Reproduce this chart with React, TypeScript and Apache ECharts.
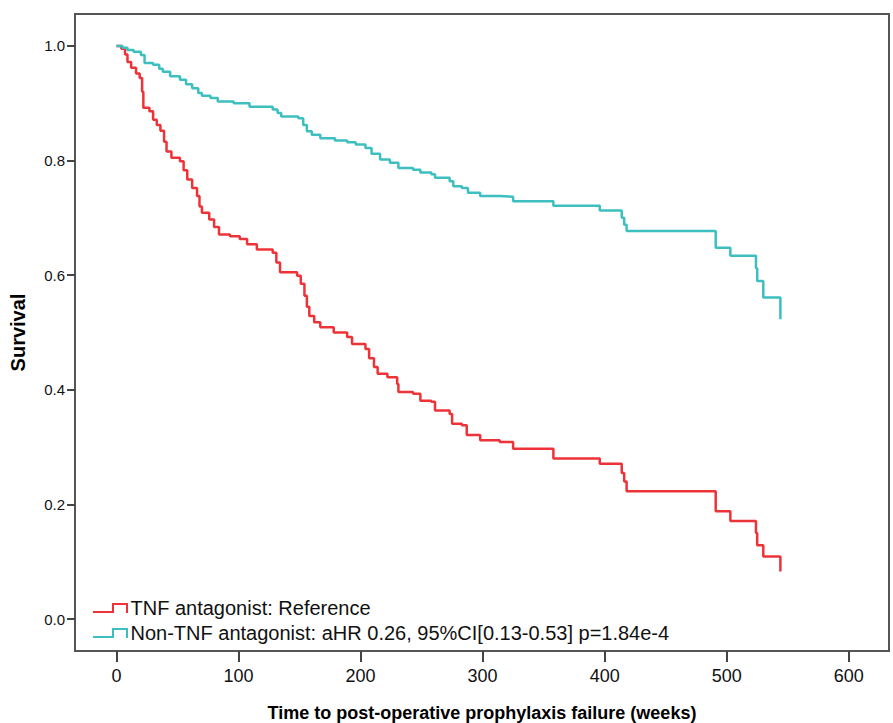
import React, { useEffect, useRef } from "react";
import * as echarts from "echarts";

// Kaplan-Meier step data (time in weeks, survival after the event)
const tnfTime = [0, 4, 7, 9, 12, 16, 19, 21, 22, 27, 30, 33, 36, 39, 41, 45, 52, 55, 58, 62, 66, 68, 70, 76, 80, 84, 93, 101, 107, 115, 128, 131, 134, 148, 151, 154, 156, 158, 162, 167, 178, 189, 193, 204, 207, 211, 214, 222, 230, 231, 243, 249, 258, 261, 273, 275, 283, 287, 298, 314, 325, 358, 396, 414, 416, 418, 491, 503, 524, 525, 530, 544];
const tnfSurv = [1.0, 0.995, 0.985, 0.972, 0.962, 0.952, 0.944, 0.92, 0.892, 0.886, 0.871, 0.862, 0.852, 0.833, 0.816, 0.805, 0.799, 0.783, 0.767, 0.752, 0.738, 0.72, 0.709, 0.697, 0.684, 0.671, 0.668, 0.663, 0.654, 0.645, 0.639, 0.622, 0.605, 0.599, 0.585, 0.564, 0.545, 0.529, 0.518, 0.509, 0.5, 0.492, 0.48, 0.471, 0.455, 0.44, 0.428, 0.422, 0.41, 0.396, 0.393, 0.381, 0.379, 0.364, 0.358, 0.341, 0.338, 0.321, 0.312, 0.309, 0.297, 0.28, 0.271, 0.255, 0.24, 0.223, 0.188, 0.171, 0.15, 0.129, 0.109, 0.083];

const nonTnfTime = [0, 5, 9, 14, 20, 23, 30, 35, 38, 44, 52, 57, 62, 67, 70, 77, 83, 96, 109, 128, 132, 135, 149, 153, 156, 160, 167, 179, 189, 196, 204, 209, 216, 224, 231, 243, 249, 258, 261, 273, 276, 283, 288, 298, 314, 325, 358, 396, 414, 416, 418, 491, 503, 524, 525, 530, 544];
const nonTnfSurv = [1.0, 0.997, 0.993, 0.99, 0.984, 0.97, 0.967, 0.96, 0.955, 0.947, 0.941, 0.933, 0.926, 0.918, 0.913, 0.909, 0.903, 0.9, 0.894, 0.889, 0.883, 0.877, 0.874, 0.862, 0.851, 0.845, 0.839, 0.835, 0.832, 0.828, 0.822, 0.812, 0.802, 0.796, 0.787, 0.784, 0.779, 0.776, 0.77, 0.764, 0.755, 0.752, 0.744, 0.738, 0.737, 0.729, 0.721, 0.713, 0.7, 0.688, 0.677, 0.648, 0.634, 0.612, 0.59, 0.561, 0.523];

const seriesNames = [
  "TNF antagonist: Reference",
  "Non-TNF antagonist: aHR 0.26, 95%CI[0.13-0.53] p=1.84e-4",
];
const xTicks = [0, 100, 200, 300, 400, 500, 600];
const yTicks = [0, 0.2, 0.4, 0.6, 0.8, 1.0];

const RED = "#ee3338";
const CYAN = "#3dbfbf";
const FONT = "'Liberation Sans', Arial, sans-serif";
const STEP_ICON =
  "path://M0,8 L19,8 L19,0 L35,0 L35,10 L33,10 L33,2 L21,2 L21,10 L0,10 Z";

export default function App() {
  const ref = useRef<HTMLDivElement>(null);
  useEffect(() => {
    if (!ref.current) return;
    const chart = echarts.init(ref.current, null, { renderer: "svg" });
    const zip = (t: number[], s: number[]) => t.map((v, i) => [v, s[i]]);
    chart.setOption({
      animation: false,
      backgroundColor: "#ffffff",
      textStyle: { fontFamily: FONT },
      grid: {
        left: 75,
        top: 14,
        right: 4,
        bottom: 72,
        show: true,
        containLabel: false,
        outerBoundsMode: "none",
        borderColor: "#555",
        borderWidth: 2,
        backgroundColor: "transparent",
      },
      legend: {
        orient: "vertical",
        left: 88,
        top: 593,
        itemGap: 5,
        itemWidth: 36,
        itemHeight: 10,
        textStyle: { fontSize: 20, color: "#111", fontFamily: FONT, padding: [0, 0, 0, -3] },
        data: [
          { name: seriesNames[0], icon: STEP_ICON },
          { name: seriesNames[1], icon: STEP_ICON },
        ],
      },
      xAxis: {
        type: "value",
        min: -34,
        max: 633,
        name: "Time to post-operative prophylaxis failure (weeks)",
        nameLocation: "middle",
        nameGap: 53,
        nameTextStyle: { fontSize: 18, fontWeight: "bold", color: "#000", fontFamily: FONT },
        axisLine: { show: true, onZero: false, lineStyle: { color: "#555", width: 2 } },
        axisTick: {
          show: true,
          inside: false,
          length: 11,
          customValues: xTicks,
          lineStyle: { color: "#444", width: 2 },
        },
        axisLabel: {
          customValues: xTicks,
          fontSize: 18,
          color: "#111",
          margin: 16,
          fontFamily: FONT,
        },
        splitLine: { show: false },
      },
      yAxis: {
        type: "value",
        min: -0.0557,
        max: 1.0557,
        name: "Survival",
        nameLocation: "middle",
        nameGap: 47,
        nameRotate: 90,
        nameTextStyle: { fontSize: 20, fontWeight: "bold", color: "#000", fontFamily: FONT },
        axisLine: { show: true, onZero: false, lineStyle: { color: "#555", width: 2 } },
        axisTick: {
          show: true,
          inside: false,
          length: 8,
          customValues: yTicks,
          lineStyle: { color: "#444", width: 2 },
        },
        axisLabel: {
          customValues: yTicks,
          fontSize: 15,
          color: "#111",
          margin: 10,
          fontFamily: FONT,
          formatter: (v: number) => v.toFixed(1),
        },
        splitLine: { show: false },
      },
      series: [
        {
          name: seriesNames[0],
          type: "line",
          step: "end",
          showSymbol: false,
          symbol: "none",
          color: RED,
          lineStyle: { color: RED, width: 2.5 },
          data: zip(tnfTime, tnfSurv),
        },
        {
          name: seriesNames[1],
          type: "line",
          step: "end",
          showSymbol: false,
          symbol: "none",
          color: CYAN,
          lineStyle: { color: CYAN, width: 2.5 },
          data: zip(nonTnfTime, nonTnfSurv),
        },
      ],
    });
    return () => chart.dispose();
  }, []);
  return <div ref={ref} style={{ width: 893, height: 723, position: "absolute", left: 0, top: 0 }} />;
}
